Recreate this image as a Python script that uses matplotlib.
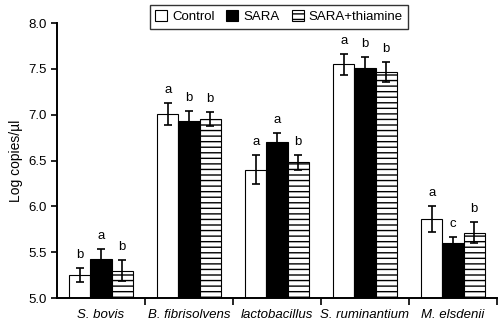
import numpy as np
import matplotlib.pyplot as plt

species = ['S. bovis', 'B. fibrisolvens', 'lactobacillus', 'S. ruminantium', 'M. elsdenii']
treatments = ['Control', 'SARA', 'SARA+thiamine']

control = [5.25, 7.01, 6.40, 7.55, 5.86]
sara = [5.43, 6.93, 6.70, 7.51, 5.60]
thiamine = [5.30, 6.95, 6.48, 7.47, 5.71]

control_err = [0.08, 0.12, 0.16, 0.115, 0.145]
sara_err = [0.10, 0.11, 0.10, 0.12, 0.07]
thiamine_err = [0.11, 0.075, 0.08, 0.11, 0.115]

control_lbl = ['b', 'a', 'a', 'a', 'a']
sara_lbl = ['a', 'b', 'a', 'b', 'c']
thiamine_lbl = ['b', 'b', 'b', 'b', 'b']

plt.rcParams['font.family'] = ['Liberation Sans', 'DejaVu Sans']
plt.rcParams['hatch.linewidth'] = 1.0

fig = plt.figure(figsize=(5, 3.22), dpi=100)
ax = fig.add_axes([0.114, 0.0745, 0.88, 0.854])

x = np.arange(len(species))
w = 0.24
series = [
    (control, control_err, control_lbl, 'white', ''),
    (sara, sara_err, sara_lbl, 'black', ''),
    (thiamine, thiamine_err, thiamine_lbl, 'white', '---'),
]
for i, (vals, errs, lbls, fc, hatch) in enumerate(series):
    pos = x + (i - 1) * w
    ax.bar(pos, np.array(vals) - 5.0, w, bottom=5.0, color=fc, edgecolor='black',
           linewidth=0.8, hatch=hatch, label=treatments[i], zorder=2)
    ax.errorbar(pos, vals, yerr=errs, fmt='none', ecolor='black', elinewidth=1.2,
                capsize=3, capthick=1.2, zorder=3)
    for p, v, e, l in zip(pos, vals, errs, lbls):
        ax.annotate(l, (p, v + e), xytext=(0, 5), textcoords='offset points',
                    ha='center', va='bottom', fontsize=9.5)

ax.set_xlim(-0.5, len(species) - 0.5)
ax.set_ylim(5.0, 8.0)
ax.set_yticks(np.arange(5.0, 8.01, 0.5))
ax.set_yticklabels([f'{v:.1f}' for v in np.arange(5.0, 8.01, 0.5)])
ax.set_xticks(np.arange(0.5, len(species) + 0.5, 1.0))
ax.set_xticklabels([])
ax.set_xticks(x, minor=True)
ax.set_xticklabels(species, minor=True, fontstyle='italic', fontsize=9.5)
ax.tick_params(axis='x', which='minor', length=0, pad=8)
ax.tick_params(axis='x', which='major', length=5, width=1.2)
ax.tick_params(axis='y', length=4, width=1.2, labelsize=9.5)
ax.set_ylabel('Log copies/µl', fontsize=10)
for s in ['top', 'right']:
    ax.spines[s].set_visible(False)
for s in ['left', 'bottom']:
    ax.spines[s].set_linewidth(1.4)

leg = fig.legend(loc='upper center', bbox_to_anchor=(0.558, 1.005), ncol=3, frameon=True,
                 fancybox=False, edgecolor='black', fontsize=9.5, handlelength=0.9,
                 handleheight=0.9, handletextpad=0.4, columnspacing=0.9,
                 borderpad=0.4)
leg.get_frame().set_linewidth(1.0)

fig.savefig('out.png', dpi=100)
